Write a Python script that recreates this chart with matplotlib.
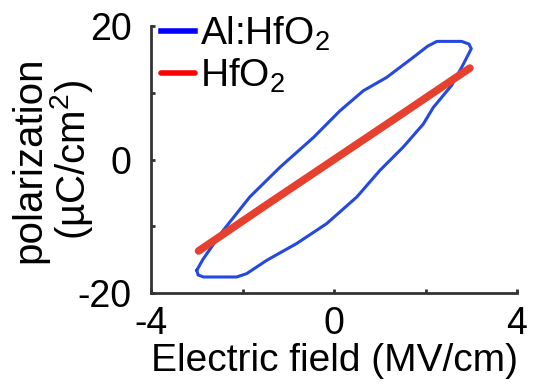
import matplotlib
matplotlib.use("Agg")
import matplotlib.pyplot as plt

plt.rcParams['font.family'] = ['Liberation Sans', 'DejaVu Sans']
plt.rcParams['mathtext.fontset'] = 'custom'
plt.rcParams['mathtext.rm'] = 'Liberation Sans'
plt.rcParams['mathtext.it'] = 'Liberation Sans'

# Al:HfO2 loop (upper branch then lower branch)
al_E = [-3.0, -2.86, -2.42, -1.84, -1.18, -0.45, 0.13, 0.64, 1.15, 1.73, 2.05,
        2.25, 2.79, 2.95, 3.0, 2.79, 2.57, 2.17, 1.95, 1.51, 1.0, 0.5, -0.16,
        -0.82, -1.47, -1.91, -2.13, -2.85, -2.97, -3.0]
al_P = [-16.6, -14.9, -10.6, -5.6, -1.15, 3.3, 7.3, 10.3, 12.3, 15.3, 17.0,
        17.7, 17.7, 17.3, 16.6, 13.8, 11.1, 7.8, 5.3, 1.85, -1.65, -5.6, -9.6,
        -12.6, -15.1, -17.1, -17.6, -17.6, -17.3, -16.6]

# HfO2 (nearly linear)
hf_E = [-2.96, -1.5, 0.0, 1.5, 2.97]
hf_P = [-13.7, -6.9, 0.0, 6.9, 13.7]

xticks = [-4, -2, 0, 2, 4]
xlabels = ['-4', '', '0', '', '4']
yticks = [-20, -10, 0, 10, 20]
ylabels = ['-20', '', '0', '', '20']

fig = plt.figure(figsize=(5.33, 3.88), dpi=100)
ax = fig.add_axes([0.2833, 0.2448, 0.6867, 0.6881])

ax.plot(al_E, al_P, color='#2448e0', lw=2.2, label='Al:HfO$_2$')
ax.plot(hf_E, hf_P, color='#e8402e', lw=5.5, solid_capstyle='round', label='HfO$_2$')

ax.set_xlim(-4, 4)
ax.set_ylim(-20, 20)
ax.set_xticks(xticks)
ax.set_xticklabels(xlabels)
ax.set_yticks(yticks)
ax.set_yticklabels(ylabels)

for s in ['top', 'right']:
    ax.spines[s].set_visible(False)
for s in ['left', 'bottom']:
    ax.spines[s].set_linewidth(2)
    ax.spines[s].set_color('#333333')

ax.tick_params(axis='both', direction='in', length=3, width=2, color='#333333',
               labelsize=27)
ax.tick_params(axis='x', pad=9)
ax.tick_params(axis='y', pad=14)

ax.set_xlabel('Electric field (MV/cm)', fontsize=28, labelpad=1)
ax.set_ylabel('polarization\n(µC/cm$^2$)', fontsize=29, linespacing=1.0)
ax.yaxis.set_label_coords(-0.153, 0.5)

leg = ax.legend(loc='upper left', bbox_to_anchor=(-0.015, 1.1), frameon=False,
                fontsize=28, handlelength=0.87, handletextpad=0.13,
                labelspacing=0.08, borderaxespad=0)
leg.legend_handles[0].set_color('#0000ff')
leg.legend_handles[0].set_linewidth(4)
leg.legend_handles[1].set_color('#ff0000')
leg.legend_handles[1].set_linewidth(4)

fig.savefig('out.png', dpi=100)
